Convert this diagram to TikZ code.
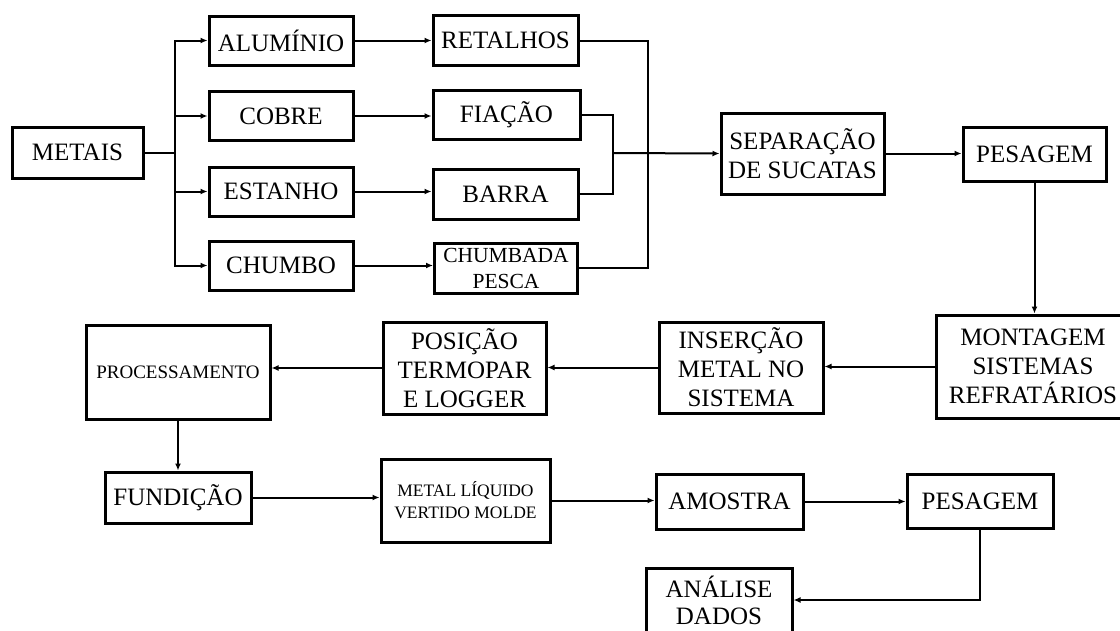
\documentclass[tikz,border=0pt]{standalone}
\usepackage{fontspec}
\setmainfont{Liberation Serif}
\usepackage{tikz}
\usetikzlibrary{arrows.meta}

\begin{document}
\begin{tikzpicture}[x=1pt, y=-1pt,
    caixa/.style={draw, line width=3pt, inner sep=0pt, align=center,
        font=\fontsize{25}{29}\selectfont},
    liga/.style={line width=2pt},
    >={Latex[length=7pt,width=6pt]}]
    \useasboundingbox (0,0) rectangle (1120,630);
    \clip (0,0) rectangle (1120,630);

    % Metais
    \node[caixa, minimum width=131, minimum height=51] (metais) at (77.5,152.5) {METAIS};
    \coordinate (ramo) at (175,152.5);

    % Tipos de metal
    \node[caixa, minimum width=144, minimum height=49] (aluminio) at (281,40.5) {ALUMÍNIO};
    \node[caixa, minimum width=144, minimum height=49] (cobre) at (281,116) {COBRE};
    \node[caixa, minimum width=144, minimum height=49] (estanho) at (281,191.5) {ESTANHO};
    \node[caixa, minimum width=144, minimum height=49] (chumbo) at (281,265.5) {CHUMBO};

    % Formas da sucata
    \node[caixa, minimum width=145, minimum height=50] (retalhos) at (505.5,40.5) {RETALHOS};
    \node[caixa, minimum width=147, minimum height=49] (fiacao) at (506.5,115) {FIAÇÃO};
    \node[caixa, minimum width=145, minimum height=50] (barra) at (505.5,194) {\raisebox{-4pt}{BARRA}};
    \node[caixa, minimum width=143, minimum height=50, font=\fontsize{21.5}{26}\selectfont]
        (chumbada) at (506,268) {CHUMBADA\\PESCA};
    \coordinate (juntaA) at (648,153);
    \coordinate (juntaB) at (613,153);

    % Etapas
    \node[caixa, minimum width=163, minimum height=81] (separacao) at (802.5,153.5) {SEPARAÇÃO\\DE SUCATAS};
    \node[caixa, minimum width=143, minimum height=54] (pesagem) at (1034.5,154) {PESAGEM};
    \node[caixa, minimum width=194, minimum height=103] (montagem) at (1033,366.5) {MONTAGEM\\SISTEMAS\\REFRATÁRIOS};
    \node[caixa, minimum width=164, minimum height=91] (insercao) at (741,367.5) {INSERÇÃO\\METAL NO\\SISTEMA};
    \node[caixa, minimum width=163, minimum height=92] (posicao) at (464.5,368) {POSIÇÃO\\TERMOPAR\\E LOGGER};
    \node[caixa, minimum width=184, minimum height=94, font=\fontsize{19}{23}\selectfont]
        (processamento) at (178,372) {PROCESSAMENTO};
    \node[caixa, minimum width=146, minimum height=51] (fundicao) at (178,497.5) {FUNDIÇÃO};
    \node[caixa, minimum width=169, minimum height=83, font=\fontsize{17.5}{22}\selectfont]
        (metal) at (465.5,500.5) {METAL LÍQUIDO\\VERTIDO MOLDE};
    \node[caixa, minimum width=147, minimum height=55] (amostra) at (729.5,501.5) {AMOSTRA};
    \node[caixa, minimum width=146, minimum height=54] (pesagemB) at (980,501) {PESAGEM};
    \node[caixa, minimum width=146, minimum height=64, font=\fontsize{25}{27}\selectfont]
        (analise) at (719,600) {ANÁLISE\\DADOS};

    % Ligacoes
    \draw[liga] (metais.east) -- (ramo);
    \foreach \n in {aluminio,cobre,estanho,chumbo}
        \draw[liga,->] (ramo) |- (\n.west);
    \foreach \a/\b in {aluminio/retalhos,cobre/fiacao,estanho/barra,chumbo/chumbada}
        \draw[liga,->] (\a.east) -- (\a.east -| \b.west);
    \draw[liga] (retalhos.east) -| (juntaA) |- (chumbada.east);
    \draw[liga] (fiacao.east) -| (juntaB) |- (barra.east);
    \draw[liga,->] (juntaB) -- (separacao.west);
    \draw[liga,->] (separacao.east) -- (separacao.east -| pesagem.west);
    \draw[liga,->] (pesagem.south) -- (pesagem.south |- montagem.north);
    \draw[liga,->] (montagem.west) -- (montagem.west -| insercao.east);
    \draw[liga,->] (insercao.west) -- (insercao.west -| posicao.east);
    \draw[liga,->] (posicao.west) -- (posicao.west -| processamento.east);
    \draw[liga,->] (processamento.south) -- (fundicao.north);
    \draw[liga,->] (fundicao.east) -- (fundicao.east -| metal.west);
    \draw[liga,->] (metal.east) -- (metal.east -| amostra.west);
    \draw[liga,->] (amostra.east) -- (amostra.east -| pesagemB.west);
    \draw[liga,->] (pesagemB.south) |- (analise.east);
\end{tikzpicture}
\end{document}
